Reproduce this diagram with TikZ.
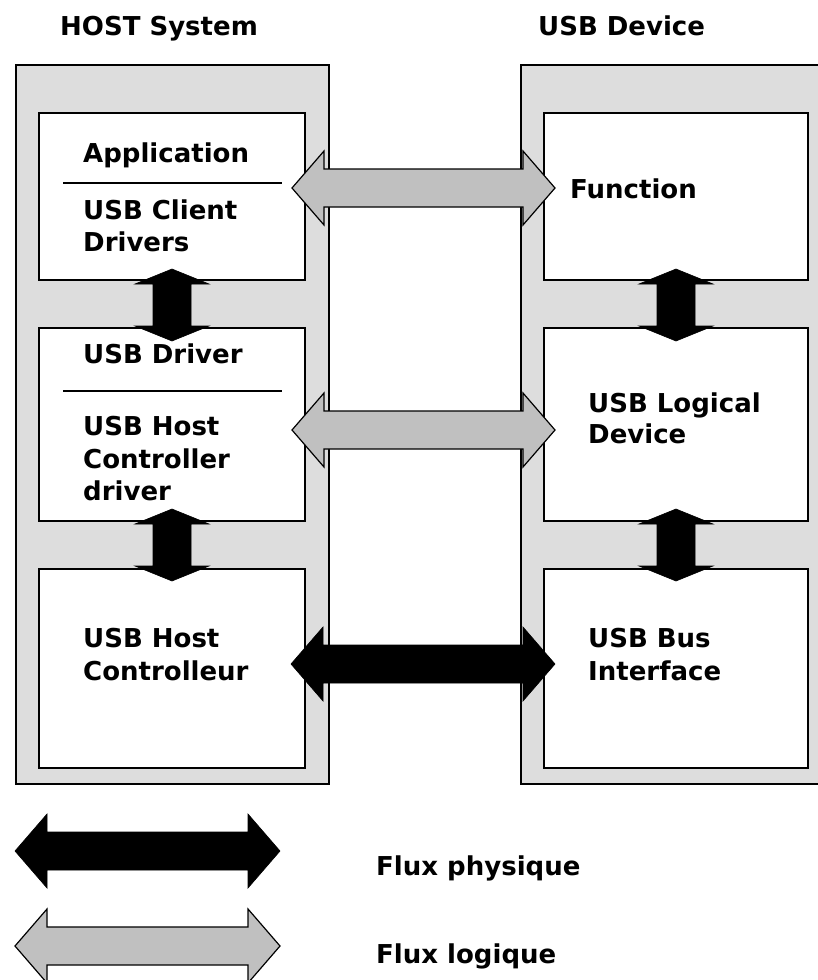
\documentclass[tikz,border=0pt]{standalone}
\usepackage{fontspec}
\setmainfont{DejaVu Sans}
\usetikzlibrary{calc}
\definecolor{panelgray}{HTML}{DDDDDD}
\definecolor{flowgray}{HTML}{C0C0C0}

% horizontal block arrow with a head at both ends: style, left tip, right tip
\newcommand\hflow[3]{%
  \draw[#1] let \p1=#2, \p2=#3 in
    (\x1,\y1) -- (\x1+32pt,\y1+37pt) -- (\x1+32pt,\y1+19pt) -- (\x2-32pt,\y1+19pt)
    -- (\x2-32pt,\y1+37pt) -- (\x2,\y1) -- (\x2-32pt,\y1-37pt) -- (\x2-32pt,\y1-19pt)
    -- (\x1+32pt,\y1-19pt) -- (\x1+32pt,\y1-37pt) -- cycle;}
% vertical block arrow with a head at both ends: style, top tip, bottom tip
\newcommand\vflow[3]{%
  \draw[#1] let \p1=#2, \p2=#3 in
    (\x1,\y1) -- (\x1+37pt,\y1-15pt) -- (\x1+19pt,\y1-15pt) -- (\x1+19pt,\y2+15pt)
    -- (\x1+37pt,\y2+15pt) -- (\x1,\y2) -- (\x1-37pt,\y2+15pt) -- (\x1-19pt,\y2+15pt)
    -- (\x1-19pt,\y1-15pt) -- (\x1-37pt,\y1-15pt) -- cycle;}

\begin{document}
\begin{tikzpicture}[x=1pt,y=-1pt,
  panel/.style={draw=black, line width=2pt, fill=panelgray, inner sep=0pt, anchor=north west},
  layer/.style={draw=black, line width=2pt, fill=white, inner sep=0pt, anchor=north west},
  lbl/.style={anchor=base west, inner sep=0pt, font=\fontsize{26}{32}\selectfont\bfseries},
  physflow/.style={fill=black, draw=black, line width=0.6pt, line join=miter},
  logflow/.style={fill=flowgray, draw=black, line width=1.2pt, line join=miter},
  sep/.style={draw=black, line width=1.6pt},
]
\path[use as bounding box] (0,0) rectangle (818,980);
\clip (0,0) rectangle (818,980);

% column titles
\node[lbl] (thost) at (60,35) {HOST System};
\node[lbl] (tdev) at (538,35) {USB Device};

% grey panels
\node[panel, minimum width=313, minimum height=719] (host) at (15,64) {};
\node[panel, minimum width=330, minimum height=719] (dev) at (520,64) {};

% host layers
\node[layer, minimum width=266, minimum height=167] (h1) at (38,112) {};
\node[layer, minimum width=266, minimum height=193] (h2) at (38,327) {};
\node[layer, minimum width=266, minimum height=199] (h3) at (38,568) {};
% device layers
\node[layer, minimum width=264, minimum height=167] (d1) at (543,112) {};
\node[layer, minimum width=264, minimum height=193] (d2) at (543,327) {};
\node[layer, minimum width=264, minimum height=199] (d3) at (543,568) {};

% separators inside the split host layers
\draw[sep] ($(h1.north west)+(25,71)$) -- ($(h1.north east)+(-24,71)$);
\draw[sep] ($(h2.north west)+(25,64)$) -- ($(h2.north east)+(-24,64)$);

% layer texts
\node[lbl] (happ) at (83,162) {Application};
\node[lbl] (hcli1) at (83,219) {USB Client};
\node[lbl] (hcli2) at (83,251) {Drivers};
\node[lbl] (hdrv) at (83,363) {USB Driver};
\node[lbl] (hhcd1) at (83,435) {USB Host};
\node[lbl] (hhcd2) at (83,468) {Controller};
\node[lbl] (hhcd3) at (83,500) {driver};
\node[lbl] (hhc1) at (83,647) {USB Host};
\node[lbl] (hhc2) at (83,680) {Controlleur};
\node[lbl] (dfun) at (570,198) {Function};
\node[lbl] (dlog1) at (588,412) {USB Logical};
\node[lbl] (dlog2) at (588,443) {Device};
\node[lbl] (dbus1) at (588,647) {USB Bus};
\node[lbl] (dbus2) at (588,680) {Interface};

% flows between the two sides
\hflow{logflow}{($(h1.east)+(-14,-8.5)$)}{($(d1.west)+(12,-8.5)$)}
\hflow{logflow}{($(h2.east)+(-14,5.5)$)}{($(d2.west)+(12,5.5)$)}
\hflow{physflow}{($(h3.east)+(-15,-4.5)$)}{($(d3.west)+(12,-4.5)$)}

% flows between stacked layers
\vflow{physflow}{($(h1.south)+(0,-12)$)}{($(h2.north)+(0,14)$)}
\vflow{physflow}{($(h2.south)+(0,-13)$)}{($(h3.north)+(0,13)$)}
\vflow{physflow}{($(d1.south)+(0,-12)$)}{($(d2.north)+(0,14)$)}
\vflow{physflow}{($(d2.south)+(0,-13)$)}{($(d3.north)+(0,13)$)}

% legend
\coordinate (phyL) at (15,851);
\coordinate (phyR) at (280,851);
\coordinate (logL) at (15,946);
\coordinate (logR) at (280,946);
\hflow{physflow}{(phyL)}{(phyR)}
\hflow{logflow}{(logL)}{(logR)}
\node[lbl] (lphy) at (376,875) {Flux physique};
\node[lbl] (llog) at (376,963) {Flux logique};
\end{tikzpicture}
\end{document}
